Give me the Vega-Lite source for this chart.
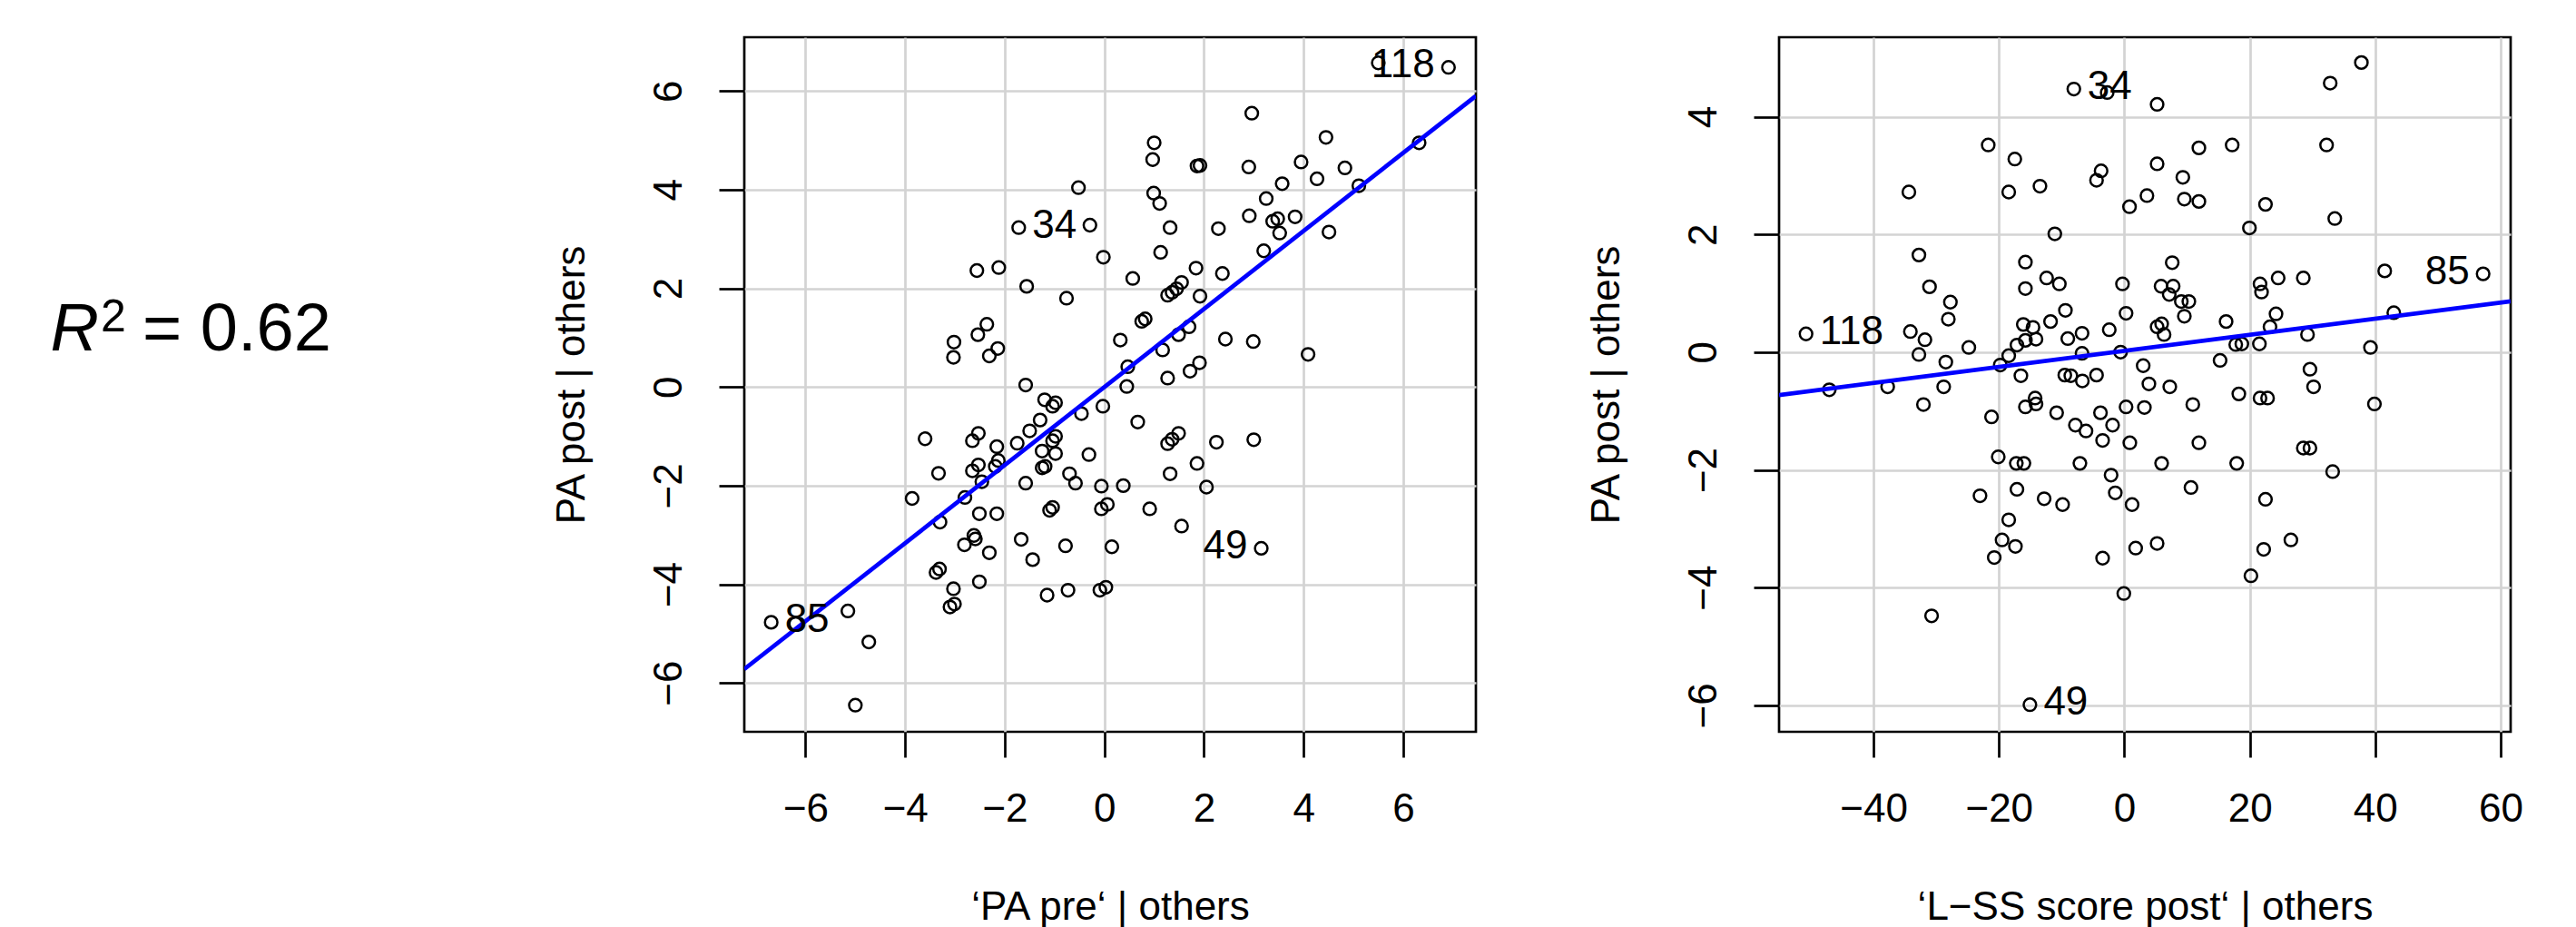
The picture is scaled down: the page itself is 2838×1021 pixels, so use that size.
{
"$schema": "https://vega.github.io/schema/vega-lite/v6.json",
"background": "white",
"padding": {"left": 55, "top": 39, "right": 60, "bottom": 0},
"spacing": 241,
"bounds": "full",
"datasets": {
"p1": [
{"x":-0.52,"y":4.04},{"x":-1.72,"y":3.23,"lab":"34"},{"x":-0.29,"y":3.28},{"x":-0.02,"y":2.63},{"x":-2.56,"y":2.36},{"x":-2.12,"y":2.42},{"x":-1.56,"y":2.04},{"x":-0.76,"y":1.80},{"x":-2.36,"y":1.27},{"x":-2.54,"y":1.06},{"x":-3.02,"y":0.91},{"x":-3.03,"y":0.60},{"x":-2.14,"y":0.78},{"x":-2.31,"y":0.63},{"x":-1.58,"y":0.04},
{"x":5.50,"y":6.57},{"x":6.91,"y":6.48,"lab":"118"},{"x":2.96,"y":5.55},{"x":6.32,"y":4.95},{"x":4.45,"y":5.06},{"x":1.00,"y":4.95},{"x":0.97,"y":4.61},{"x":1.86,"y":4.48},{"x":1.92,"y":4.49},{"x":2.90,"y":4.46},{"x":3.95,"y":4.56},{"x":4.83,"y":4.44},{"x":4.27,"y":4.22},{"x":3.57,"y":4.12},{"x":5.11,"y":4.08},{"x":3.25,"y":3.82},{"x":0.99,"y":3.93},{"x":1.11,"y":3.72},{"x":2.91,"y":3.47},{"x":3.38,"y":3.36},{"x":3.48,"y":3.41},{"x":3.52,"y":3.12},{"x":3.83,"y":3.45},{"x":4.51,"y":3.14},{"x":1.32,"y":3.23},{"x":2.29,"y":3.21},{"x":1.13,"y":2.73},{"x":3.20,"y":2.76},{"x":0.57,"y":2.20},{"x":1.84,"y":2.41},{"x":2.37,"y":2.30},{"x":1.27,"y":1.86},{"x":1.36,"y":1.92},{"x":1.45,"y":1.99},{"x":1.55,"y":2.12},{"x":1.92,"y":1.84},{"x":0.75,"y":1.33},{"x":0.82,"y":1.38},{"x":0.32,"y":0.95},{"x":1.70,"y":1.22},{"x":1.49,"y":1.06},{"x":2.43,"y":0.97},{"x":2.99,"y":0.92},{"x":1.17,"y":0.75},{"x":0.47,"y":0.41},{"x":0.45,"y":0.01},{"x":1.27,"y":0.18},{"x":1.72,"y":0.32},{"x":1.91,"y":0.49},{"x":4.09,"y":0.66},
{"x":-6.69,"y":-4.77,"lab":"85"},{"x":-6.20,"y":-4.80},{"x":-5.15,"y":-4.54},{"x":-4.73,"y":-5.17},{"x":-5.00,"y":-6.45},{"x":-3.60,"y":-1.05},{"x":-3.86,"y":-2.26},{"x":-3.33,"y":-1.75},{"x":-3.38,"y":-3.76},{"x":-3.31,"y":-3.69},{"x":-3.03,"y":-4.09},{"x":-3.10,"y":-4.46},{"x":-3.01,"y":-4.40},{"x":-2.65,"y":-1.09},{"x":-2.53,"y":-0.94},{"x":-2.16,"y":-1.21},{"x":-2.65,"y":-1.70},{"x":-2.53,"y":-1.58},{"x":-2.46,"y":-1.92},{"x":-2.19,"y":-1.61},{"x":-2.13,"y":-1.49},{"x":-2.80,"y":-2.24},{"x":-3.30,"y":-2.74},{"x":-2.51,"y":-2.57},{"x":-2.16,"y":-2.57},{"x":-2.62,"y":-3.01},{"x":-2.59,"y":-3.08},{"x":-2.81,"y":-3.20},{"x":-2.31,"y":-3.36},{"x":-1.67,"y":-3.09},{"x":-1.44,"y":-3.50},{"x":-2.51,"y":-3.95},{"x":-1.75,"y":-1.14},{"x":-1.50,"y":-0.89},{"x":-1.29,"y":-0.67},{"x":-1.20,"y":-0.26},{"x":-1.04,"y":-0.39},{"x":-0.98,"y":-0.32},{"x":-0.46,"y":-0.54},{"x":-0.03,"y":-0.39},{"x":-0.98,"y":-1.00},{"x":-1.04,"y":-1.09},{"x":-1.25,"y":-1.30},{"x":-0.98,"y":-1.35},{"x":-1.25,"y":-1.64},{"x":-1.19,"y":-1.61},{"x":-0.70,"y":-1.76},{"x":-0.58,"y":-1.95},{"x":-0.31,"y":-1.37},{"x":-1.58,"y":-1.95},{"x":-1.10,"y":-2.50},{"x":-1.04,"y":-2.44},{"x":-0.06,"y":-2.47},{"x":0.06,"y":-2.38},{"x":-0.78,"y":-3.22},{"x":0.15,"y":-3.24},{"x":-1.15,"y":-4.22},{"x":-0.73,"y":-4.12},{"x":-0.09,"y":-4.12},{"x":0.03,"y":-4.06},
{"x":0.67,"y":-0.71},{"x":1.27,"y":-1.15},{"x":1.36,"y":-1.06},{"x":1.49,"y":-0.94},{"x":2.25,"y":-1.12},{"x":3.00,"y":-1.07},{"x":1.86,"y":-1.55},{"x":1.32,"y":-1.76},{"x":2.05,"y":-2.03},{"x":-0.06,"y":-2.01},{"x":0.38,"y":-2.00},{"x":0.91,"y":-2.47},{"x":1.55,"y":-2.82},{"x":3.15,"y":-3.27,"lab":"49"}
],
"p2": [
{"x":-8.06,"y":4.47,"lab":"34"},{"x":-2.74,"y":4.41},{"x":-21.71,"y":3.52},{"x":-17.47,"y":3.28},{"x":-3.71,"y":3.08},{"x":-4.44,"y":2.92},{"x":-34.36,"y":2.72},{"x":-18.44,"y":2.72},{"x":-13.46,"y":2.82},{"x":0.82,"y":2.47},{"x":-11.09,"y":2.01},{"x":-32.76,"y":1.65},{"x":-15.78,"y":1.53},{"x":-12.40,"y":1.26},{"x":-10.37,"y":1.16},{"x":-15.78,"y":1.08},{"x":-0.30,"y":1.16},{"x":-31.07,"y":1.11},{"x":-27.74,"y":0.85},{"x":-28.07,"y":0.56},{"x":-9.40,"y":0.71},{"x":0.27,"y":0.66},{"x":-11.77,"y":0.52},{"x":-50.76,"y":0.31,"lab":"118"},{"x":-34.12,"y":0.35},{"x":-31.80,"y":0.21},{"x":-32.76,"y":-0.04},{"x":-24.80,"y":0.08},{"x":-28.47,"y":-0.17},{"x":-28.81,"y":-0.59},{"x":-16.12,"y":0.47},{"x":-14.57,"y":0.42},{"x":-14.09,"y":0.22},{"x":-15.78,"y":0.20},{"x":-17.13,"y":0.12},{"x":-18.44,"y":-0.06},{"x":-19.79,"y":-0.22},{"x":-9.02,"y":0.23},{"x":-6.75,"y":0.32},{"x":-2.41,"y":0.38},{"x":-6.75,"y":-0.02},{"x":-0.60,"y":0.00},{"x":-16.50,"y":-0.40},{"x":-9.50,"y":-0.39},{"x":-8.54,"y":-0.40},{"x":-6.70,"y":-0.49},{"x":-4.44,"y":-0.39},{"x":-47.05,"y":-0.64},{"x":-37.74,"y":-0.59},
{"x":37.79,"y":4.92},{"x":32.82,"y":4.57},{"x":5.22,"y":4.21},{"x":32.24,"y":3.52},{"x":11.88,"y":3.47},{"x":17.19,"y":3.52},{"x":5.22,"y":3.20},{"x":9.32,"y":2.97},{"x":3.60,"y":2.66},{"x":9.56,"y":2.60},{"x":11.88,"y":2.56},{"x":22.50,"y":2.51},{"x":19.94,"y":2.11},{"x":33.55,"y":2.27},{"x":7.63,"y":1.52},{"x":5.85,"y":1.12},{"x":7.78,"y":1.12},{"x":7.15,"y":0.98},{"x":9.08,"y":0.86},{"x":10.28,"y":0.86},{"x":21.63,"y":1.16},{"x":21.87,"y":1.02},{"x":24.52,"y":1.26},{"x":28.53,"y":1.26},{"x":41.51,"y":1.38},{"x":57.20,"y":1.33,"lab":"85"},{"x":9.56,"y":0.61},{"x":24.18,"y":0.65},{"x":16.22,"y":0.52},{"x":5.22,"y":0.43},{"x":5.94,"y":0.48},{"x":6.33,"y":0.30},{"x":23.22,"y":0.43},{"x":42.96,"y":0.67},{"x":29.20,"y":0.30},{"x":17.76,"y":0.13},{"x":18.73,"y":0.14},{"x":21.53,"y":0.14},{"x":39.24,"y":0.08},{"x":15.26,"y":-0.14},{"x":3.00,"y":-0.23},{"x":3.91,"y":-0.54},{"x":7.24,"y":-0.59},{"x":29.59,"y":-0.29},{"x":30.17,"y":-0.59},
{"x":-32.04,"y":-0.89},{"x":-21.18,"y":-1.10},{"x":-15.78,"y":-0.93},{"x":-14.23,"y":-0.78},{"x":-14.09,"y":-0.88},{"x":-10.80,"y":-1.03},{"x":-7.81,"y":-1.24},{"x":-6.12,"y":-1.34},{"x":-3.81,"y":-1.03},{"x":-1.88,"y":-1.24},{"x":-3.47,"y":-1.50},{"x":0.27,"y":-0.93},{"x":0.87,"y":-1.54},{"x":-20.11,"y":-1.78},{"x":-17.23,"y":-1.89},{"x":-16.02,"y":-1.89},{"x":-7.09,"y":-1.89},{"x":-23.02,"y":-2.44},{"x":-17.13,"y":-2.33},{"x":-12.79,"y":-2.49},{"x":-9.85,"y":-2.59},{"x":-2.12,"y":-2.09},{"x":-1.45,"y":-2.39},{"x":1.23,"y":-2.59},{"x":-18.44,"y":-2.85},{"x":-19.50,"y":-3.19},{"x":-17.37,"y":-3.30},{"x":-20.75,"y":-3.49},{"x":-3.47,"y":-3.50},{"x":1.80,"y":-3.33},{"x":-0.09,"y":-4.10},{"x":-30.74,"y":-4.48},{"x":-15.06,"y":-5.99,"lab":"49"},
{"x":18.25,"y":-0.71},{"x":21.63,"y":-0.78},{"x":22.83,"y":-0.78},{"x":3.19,"y":-0.94},{"x":10.91,"y":-0.89},{"x":39.87,"y":-0.88},{"x":11.88,"y":-1.54},{"x":5.94,"y":-1.89},{"x":17.91,"y":-1.89},{"x":28.53,"y":-1.63},{"x":29.59,"y":-1.63},{"x":33.21,"y":-2.03},{"x":10.62,"y":-2.30},{"x":22.50,"y":-2.50},{"x":5.22,"y":-3.25},{"x":22.21,"y":-3.35},{"x":26.55,"y":-3.19},{"x":20.18,"y":-3.80}
],
"fit1": [{"x":-7.23,"y":-5.72},{"x":7.46,"y":5.90}],
"fit2": [{"x":-55.06,"y":-0.73},{"x":61.59,"y":0.864}]
},
"config": {
"font": "Liberation Sans",
"view": {"stroke": "black", "strokeWidth": 2.7},
"axis": {"grid": true, "gridColor": "#d3d3d3", "gridWidth": 2.7, "domain": false, "ticks": true, "tickColor": "black", "tickWidth": 2.7, "tickSize": 28, "labelFontSize": 44, "labelColor": "black", "labelFont": "Liberation Sans", "titleFont": "Liberation Sans", "titleFontSize": 44, "titleFontWeight": "normal", "titleColor": "black", "labelFlush": false, "labelOverlap": false},
"axisX": {"labelPadding": 70, "labelBaseline": "alphabetic", "labelAlign": "center", "titleY": 206, "titleBaseline": "alphabetic"},
"axisY": {"labelAngle": 270, "labelAlign": "center", "labelBaseline": "alphabetic", "labelPadding": 42, "titleAngle": 270, "titleX": -177, "titleY": 382.5, "titleBaseline": "alphabetic", "titleAlign": "center"}
},
"hconcat": [
{
"width": 106, "height": 689,
"view": {"stroke": null},
"data": {"values": [{"t1": "R", "t2": "2", "t3": "= 0.62"}]},
"layer": [
{"mark": {"type": "text", "align": "right", "baseline": "alphabetic", "fontSize": 74, "fontStyle": "italic", "color": "black"}, "encoding": {"text": {"field": "t1"}}},
{"mark": {"type": "text", "align": "left", "baseline": "alphabetic", "fontSize": 50, "dx": 2, "dy": -21, "color": "black"}, "encoding": {"text": {"field": "t2"}}},
{"mark": {"type": "text", "align": "left", "baseline": "alphabetic", "fontSize": 74, "dx": 48, "color": "black"}, "encoding": {"text": {"field": "t3"}}}
]
},
{
"spacing": 334,
"bounds": "flush",
"hconcat": [
{
"width": 806, "height": 765,
"data": {"name": "p1"},
"encoding": {
"x": {"field": "x", "type": "quantitative", "scale": {"domain": [-7.23, 7.46], "nice": false, "zero": false}, "axis": {"title": "‘PA pre‘ | others", "values": [-6,-4,-2,0,2,4,6], "format": "d"}},
"y": {"field": "y", "type": "quantitative", "scale": {"domain": [-6.99, 7.09], "nice": false, "zero": false}, "axis": {"title": "PA post | others", "values": [-6,-4,-2,0,2,4,6], "format": "d"}}
},
"layer": [
{"mark": {"type": "point", "shape": "circle", "filled": false, "color": "black", "strokeWidth": 2.5, "size": 190, "opacity": 1}},
{"data": {"name": "fit1"}, "mark": {"type": "line", "color": "#0000ff", "strokeWidth": 4.7, "clip": true}},
{"transform": [{"filter": "isValid(datum.lab) && datum.x < 0"}], "mark": {"type": "text", "align": "left", "baseline": "middle", "dx": 15, "dy": -2, "fontSize": 44, "color": "black"}, "encoding": {"text": {"field": "lab"}}},
{"transform": [{"filter": "isValid(datum.lab) && datum.x >= 0"}], "mark": {"type": "text", "align": "right", "baseline": "middle", "dx": -15, "dy": -2, "fontSize": 44, "color": "black"}, "encoding": {"text": {"field": "lab"}}}
]
},
{
"width": 806, "height": 765,
"data": {"name": "p2"},
"encoding": {
"x": {"field": "x", "type": "quantitative", "scale": {"domain": [-55.06, 61.59], "nice": false, "zero": false}, "axis": {"title": "‘L−SS score post‘ | others", "values": [-40,-20,0,20,40,60], "format": "d"}},
"y": {"field": "y", "type": "quantitative", "scale": {"domain": [-6.45, 5.35], "nice": false, "zero": false}, "axis": {"title": "PA post | others", "values": [-6,-4,-2,0,2,4], "format": "d"}}
},
"layer": [
{"mark": {"type": "point", "shape": "circle", "filled": false, "color": "black", "strokeWidth": 2.5, "size": 190, "opacity": 1}},
{"data": {"name": "fit2"}, "mark": {"type": "line", "color": "#0000ff", "strokeWidth": 4.7, "clip": true}},
{"transform": [{"filter": "isValid(datum.lab) && datum.x < 0"}], "mark": {"type": "text", "align": "left", "baseline": "middle", "dx": 15, "dy": -2, "fontSize": 44, "color": "black"}, "encoding": {"text": {"field": "lab"}}},
{"transform": [{"filter": "isValid(datum.lab) && datum.x >= 0"}], "mark": {"type": "text", "align": "right", "baseline": "middle", "dx": -15, "dy": -2, "fontSize": 44, "color": "black"}, "encoding": {"text": {"field": "lab"}}}
]
}
]
}
]
}
